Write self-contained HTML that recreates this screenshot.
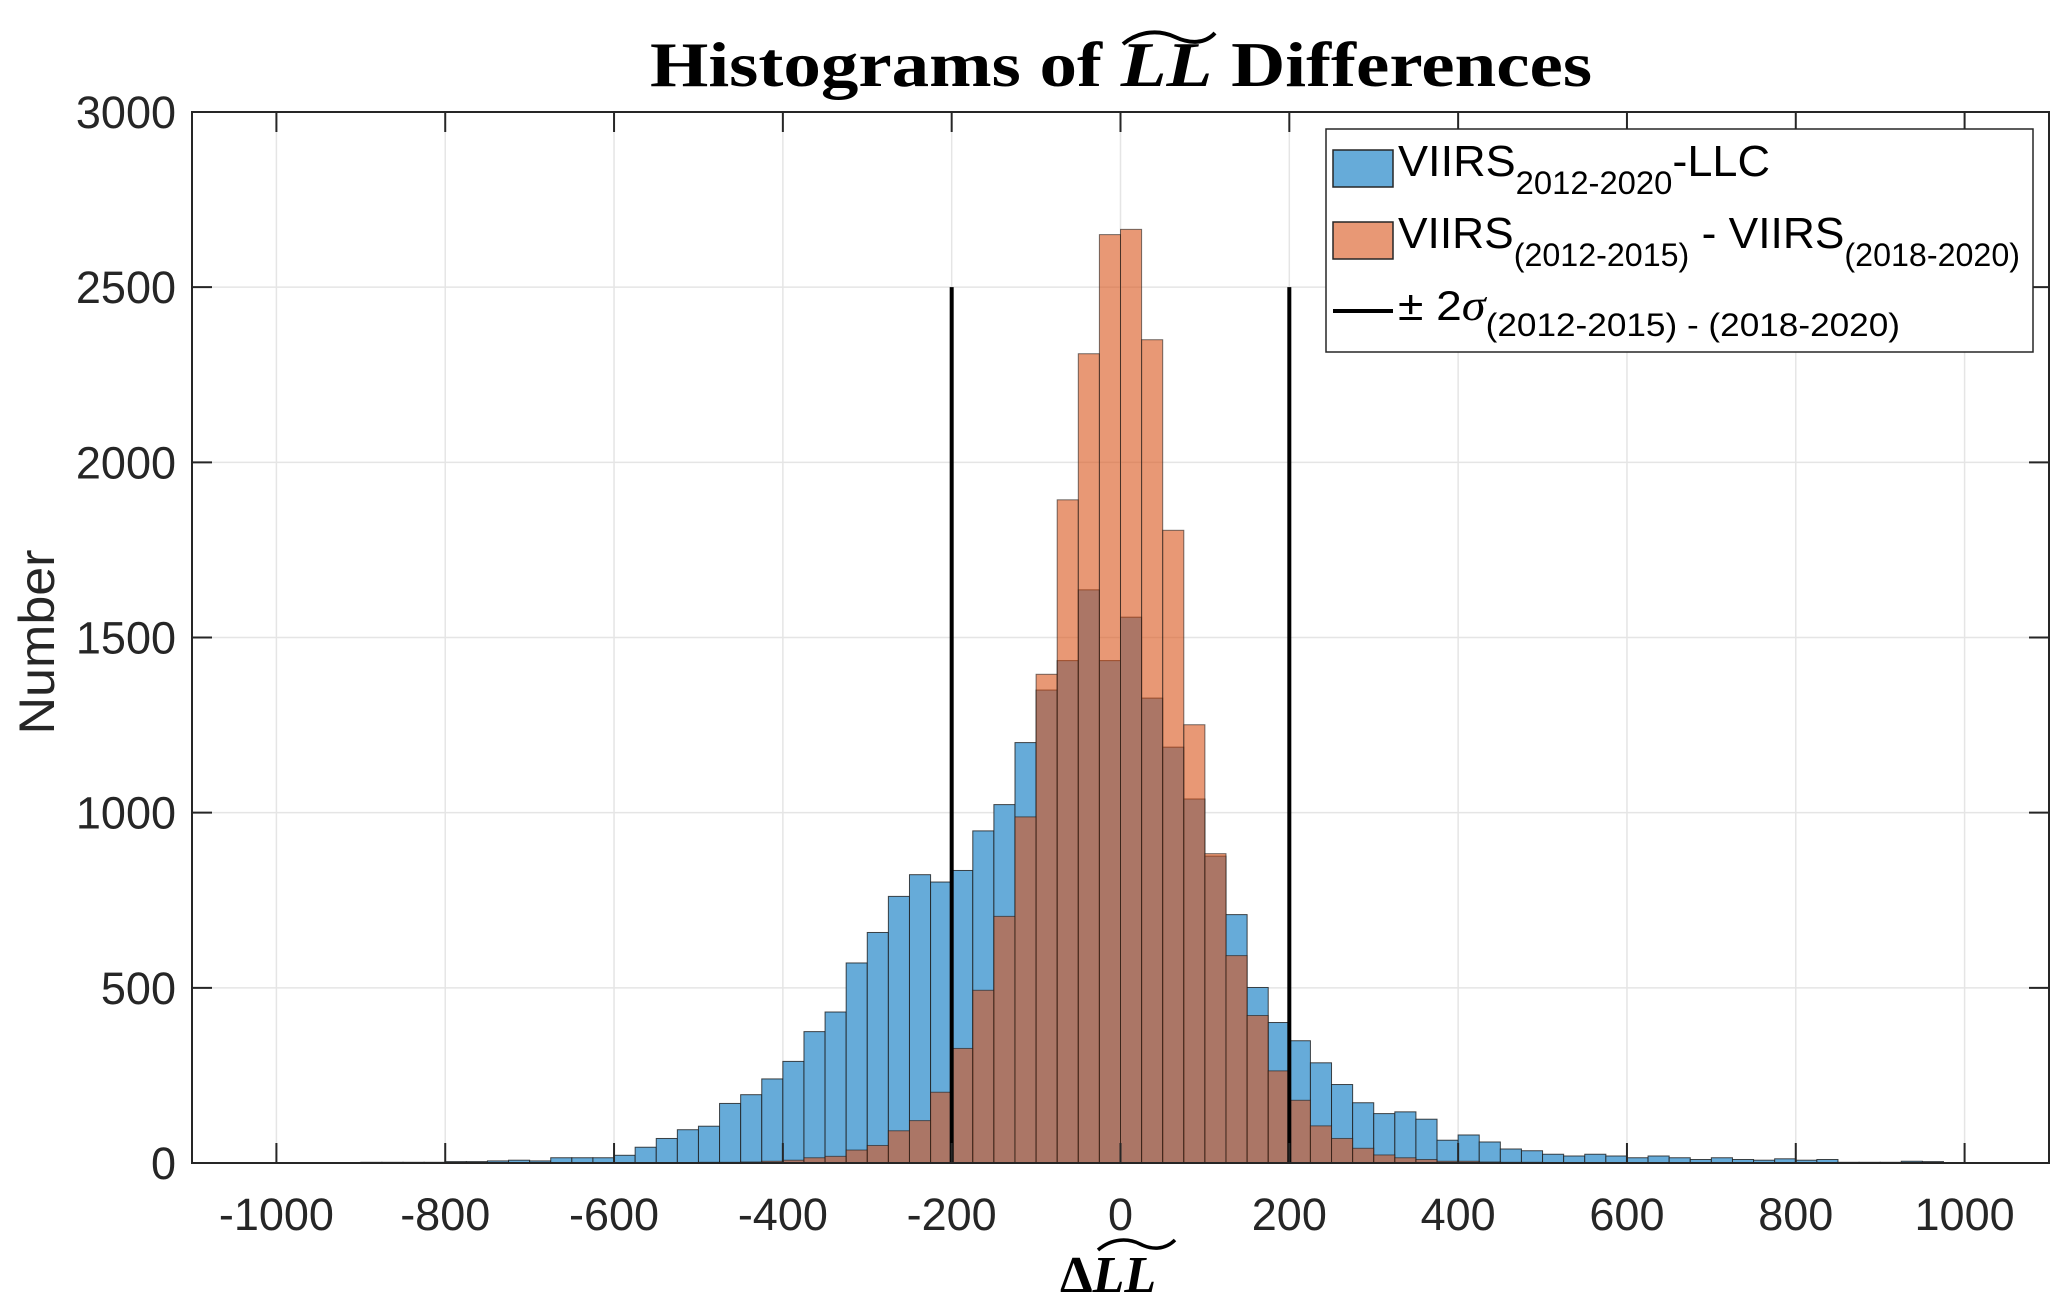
<!DOCTYPE html>
<html><head><meta charset="utf-8"><style>
html,body{margin:0;padding:0;background:#fff;}
svg{display:block;}
text{font-family:"Liberation Sans",sans-serif;fill:#262626;}
</style></head><body>
<svg id="chart" width="2067" height="1306" viewBox="0 0 2067 1306" xmlns="http://www.w3.org/2000/svg">
<rect x="0" y="0" width="2067" height="1306" fill="#fff"/>
<g id="grid"></g>
<g id="bars"></g>
<g id="lines"></g>
<g id="axes"></g>
<text x="650" y="86" textLength="942" lengthAdjust="spacingAndGlyphs" style="font-family:'Liberation Serif',serif;font-weight:bold;font-size:64px;fill:#000">Histograms of <tspan font-style="italic">LL</tspan> Differences</text>
<path d="M1123,44 C1140,30 1160,30 1175,37 C1190,44 1205,44 1215,33" stroke="#000" stroke-width="4" fill="none"/>
<text transform="translate(54,642) rotate(-90)" text-anchor="middle" textLength="185" lengthAdjust="spacingAndGlyphs" style="font-size:50px;fill:#262626">Number</text>
<text x="1060" y="1292" style="font-family:'Liberation Serif',serif;font-weight:bold;font-size:52px;fill:#000">Δ<tspan font-style="italic">LL</tspan></text>
<path d="M1098,1250 C1112,1238 1128,1238 1140,1244 C1152,1250 1165,1250 1175,1240" stroke="#000" stroke-width="3.5" fill="none"/>
<g>
<rect x="1326" y="129" width="707" height="223" fill="#fff" stroke="#262626" stroke-width="1.5"/>
<rect x="1333" y="150" width="60" height="37" fill="#66abd9" stroke="#262626" stroke-width="1.5"/>
<text x="1398" y="176" textLength="372" lengthAdjust="spacingAndGlyphs" style="font-size:44px;fill:#000">VIIRS<tspan font-size="32" dy="18">2012-2020</tspan><tspan dy="-18">-LLC</tspan></text>
<rect x="1333" y="222" width="60" height="37" fill="#e89875" stroke="#262626" stroke-width="1.5"/>
<text x="1398" y="248" textLength="622" lengthAdjust="spacingAndGlyphs" style="font-size:44px;fill:#000">VIIRS<tspan font-size="32" dy="18">(2012-2015)</tspan><tspan dy="-18"> - VIIRS</tspan><tspan font-size="32" dy="18">(2018-2020)</tspan></text>
<line x1="1333" y1="311" x2="1393" y2="311" stroke="#000" stroke-width="4"/>
<text x="1398" y="320" textLength="502" lengthAdjust="spacingAndGlyphs" style="font-size:42px;fill:#000">± 2<tspan font-family="'Liberation Serif',serif" font-style="italic" font-size="44">σ</tspan><tspan font-size="32" dy="16">(2012-2015) - (2018-2020)</tspan></text>
</g>
</svg>
<script>
const binStarts = [-900,-875,-850,-825,-800,-775,-750,-725,-700,-675,-650,-625,-600,-575,-550,-525,-500,-475,-450,-425,-400,-375,-350,-325,-300,-275,-250,-225,-200,-175,-150,-125,-100,-75,-50,-25,0,25,50,75,100,125,150,175,200,225,250,275,300,325,350,375,400,425,450,475,500,525,550,575,600,625,650,675,700,725,750,775,800,825,850,875,900,925,950];
const blueCounts = [2,2,2,2,4,4,6,8,6,15,15,15,22,45,70,95,105,170,195,240,290,375,431,571,658,761,823,802,835,948,1023,1200,1350,1434,1636,1434,1558,1327,1187,1039,876,709,501,401,349,286,224,172,141,146,125,65,80,60,40,35,25,20,25,20,15,20,15,10,15,10,8,12,8,10,2,2,2,5,4];
const orangeCounts = [0,0,0,0,0,0,0,0,0,0,0,0,0,0,0,0,2,2,3,5,8,15,19,37,50,92,121,202,327,493,704,988,1395,1893,2310,2650,2665,2350,1806,1251,883,592,421,263,179,106,70,42,23,15,10,5,5,3,2,2,1,1,1,1,0,0,0,0,0,0,0,0,0,0,0,0,0,0,0];
const binWidth = 25;
const xTicks = [-1000,-800,-600,-400,-200,0,200,400,600,800,1000];
const yTicks = [0,500,1000,1500,2000,2500,3000];
const sigmaLines = [-200,200];
const sigmaHeight = 2500;

const NS='http://www.w3.org/2000/svg';
const L=192,R=2049,T=112,B=1163;
const xMin=-1100,xMax=1100,yMax=3000;
function xs(v){return L+(v-xMin)/(xMax-xMin)*(R-L);}
function ys(v){return B-v/yMax*(B-T);}
function mk(tag,attrs,parent){const e=document.createElementNS(NS,tag);for(const k in attrs)e.setAttribute(k,attrs[k]);parent.appendChild(e);return e;}
const grid=document.getElementById('grid'),bars=document.getElementById('bars'),lines=document.getElementById('lines'),axes=document.getElementById('axes');
xTicks.forEach(t=>{
  const g=mk('line',{x1:xs(t),x2:xs(t),y1:T,y2:B,stroke:'#e5e5e5','stroke-width':1.5},grid);
  
  
});
yTicks.forEach(t=>{
  const g=mk('line',{x1:L,x2:R,y1:ys(t),y2:ys(t),stroke:'#e5e5e5','stroke-width':1.5},grid);
  
  
});
binStarts.forEach((s,i)=>{
  const v=blueCounts[i];if(v<=0)return;
  const r=mk('rect',{x:xs(s),y:ys(v),width:xs(s+binWidth)-xs(s),height:B-ys(v),fill:'#66abd9',stroke:'#1a1a1a','stroke-width':1,'stroke-opacity':0.8},bars);
  
  
});
binStarts.forEach((s,i)=>{
  const v=orangeCounts[i];if(v<=0)return;
  const r=mk('rect',{x:xs(s),y:ys(v),width:xs(s+binWidth)-xs(s),height:B-ys(v),fill:'rgb(217,83,25)','fill-opacity':0.6,stroke:'#1a1a1a','stroke-width':1,'stroke-opacity':0.6},bars);
  
  
});
sigmaLines.forEach(v=>{
  const l=mk('line',{x1:xs(v),x2:xs(v),y1:ys(0),y2:ys(sigmaHeight),stroke:'#000','stroke-width':4},lines);
  
  
});
const box=mk('rect',{x:L,y:T,width:R-L,height:B-T,fill:'none',stroke:'#262626','stroke-width':2},axes);


xTicks.forEach(t=>{
  mk('line',{x1:xs(t),x2:xs(t),y1:B,y2:B-20,stroke:'#262626','stroke-width':2},axes);
  mk('line',{x1:xs(t),x2:xs(t),y1:T,y2:T+20,stroke:'#262626','stroke-width':2},axes);
  const tx=mk('text',{x:xs(t),y:B+67,'text-anchor':'middle','font-size':'45'},axes);
  tx.textContent=t;
  
  
});
yTicks.forEach(t=>{
  mk('line',{x1:L,x2:L+20,y1:ys(t),y2:ys(t),stroke:'#262626','stroke-width':2},axes);
  mk('line',{x1:R,x2:R-20,y1:ys(t),y2:ys(t),stroke:'#262626','stroke-width':2},axes);
  const tx=mk('text',{x:L-16,y:ys(t)+16,'text-anchor':'end','font-size':'45'},axes);
  tx.textContent=t;
  
  
});
</script>
</body></html>
